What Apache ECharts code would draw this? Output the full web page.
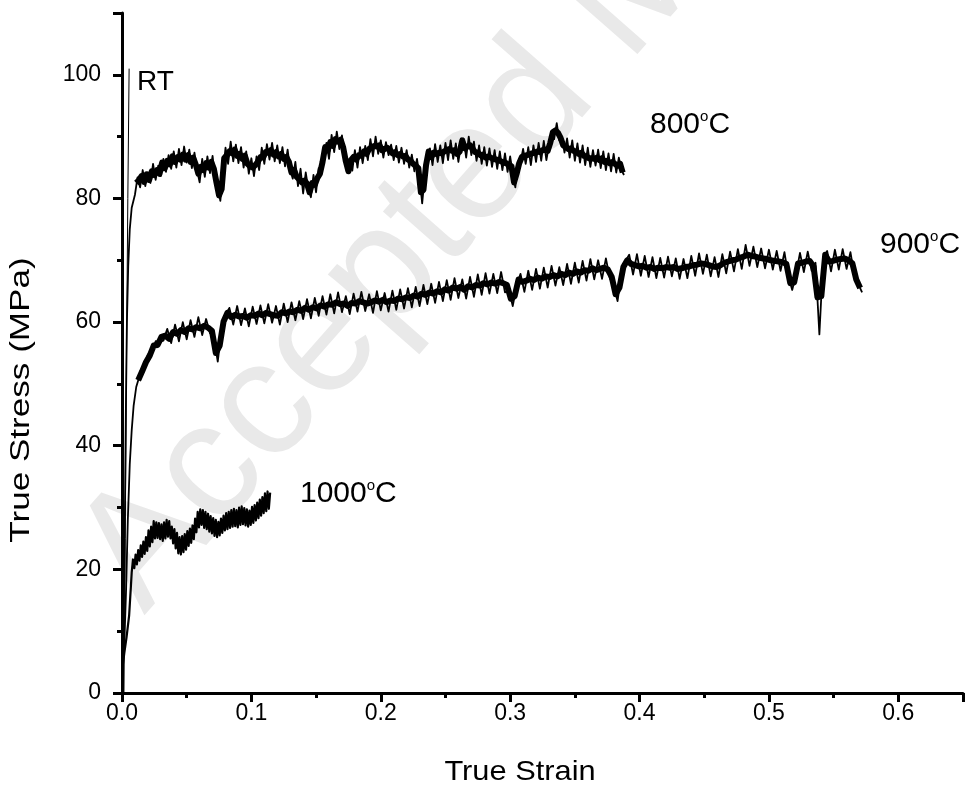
<!DOCTYPE html>
<html>
<head>
<meta charset="utf-8">
<script src="https://cdn.jsdelivr.net/npm/echarts@6/dist/echarts.min.js"></script>
<style>
html,body{margin:0;padding:0;background:#fff;}
#c{width:966px;height:791px;}
</style>
</head>
<body>
<div id="c"></div>
<script>
// ---- Data ----
const xTicks = [0, 0.1, 0.2, 0.3, 0.4, 0.5, 0.6];
const yTicks = [0, 20, 40, 60, 80, 100];

// RT curve (thin, nearly vertical)
const curveRT = [[0.0015, 0], [0.0025, 25], [0.0035, 55], [0.0045, 80], [0.0055, 101]];

// elastic rise parts [strain, stress]
const rise800 = [[0.0003, 4], [0.0012, 10], [0.0022, 28], [0.003, 46], [0.0038, 60], [0.0048, 69], [0.006, 75], [0.0075, 78.5]];
const rise900 = [[0.0003, 4], [0.0018, 8], [0.0032, 17], [0.0045, 28], [0.006, 37], [0.0075, 42.5], [0.009, 46.5]];
const rise1000 = [[0.0003, 4], [0.0018, 6.5], [0.0035, 9], [0.0055, 12.5], [0.0068, 17]];

// plastic noisy parts: regularly sampled strain (start, step) with read stress values
// (band extremes), plus band-centre readings taken half-way between those samples
const start800 = 0.010, step800 = 0.002;
const stress800 = [
80.6,83.4,81.8,84.6,82.0,84.2,82.5,85.6,83.0,85.3,
83.6,86.4,84.3,87.0,84.8,87.6,85.0,88.0,
85.4,88.4,85.8,87.9,84.9,87.4,84.6,
82.6,86.4,83.5,86.8,84.1,86.9,83.2,82.0,
79.6,84.0,
88.2,85.6,89.2,86.0,88.7,85.7,88.3,85.0,87.6,84.0,86.5,
83.6,86.8,84.6,88.2,85.6,88.8,
86.3,89.0,86.0,88.6,85.7,88.3,85.2,87.9,84.6,
83.2,85.9,82.0,84.8,80.8,84.2,81.5,80.2,83.8,81.0,84.9,84.2,
87.0,89.0,86.4,90.3,87.5,90.8,88.0,90.2,86.8,
85.2,85.6,84.5,87.8,85.0,88.3,85.7,88.5,
86.2,89.6,86.8,90.0,87.2,89.4,86.6,89.1,87.0,
88.7,86.2,88.5,85.8,88.2,85.6,87.8,85.0,87.1,84.4,86.4,
83.5,79.2,83.6,86.8,
88.1,85.4,88.8,85.9,88.6,85.7,89.0,86.2,89.4,86.4,88.9,85.9,
88.7,89.7,86.6,90.0,87.0,89.2,86.1,88.6,85.6,88.3,
85.3,88.1,85.1,87.8,84.8,87.6,84.6,87.3,84.3,86.8,
84.0,81.8,86.0,
85.8,88.0,85.6,88.3,85.4,88.6,85.9,89.0,86.1,89.3,86.2,88.6,
89.8,89.6,92.2,89.4,90.0,87.4,
89.7,86.6,89.4,86.1,88.9,85.8,88.6,85.4,88.2,85.1,87.8,85.3,
87.9,84.9,87.6,84.6,87.3,84.4,87.2,84.2,86.6,
84.6,83.8
];
const mid800 = [
82.5,82.9,83.6,82.7,83.9,83.0,84.4,83.8,84.6,84.0,
85.8,84.9,86.1,85.5,86.8,85.9,86.7,86.3,
87.1,86.3,87.0,85.9,86.6,85.5,84.0,
85.1,84.6,85.7,85.0,85.9,84.8,82.6,80.5,
81.5,86.5,
87.0,87.6,87.3,87.9,86.9,87.2,86.4,86.9,85.6,85.2,85.0,
85.4,85.9,86.7,86.6,87.5,87.4,
87.8,87.1,87.5,86.8,87.2,86.4,86.7,85.9,84.2,
84.6,83.5,83.1,82.6,82.9,82.4,81.0,82.5,82.2,83.3,84.0,85.9,
88.3,87.8,89.1,88.5,89.6,89.2,89.5,88.2,86.0,
84.4,86.2,86.7,86.3,87.0,86.9,87.6,87.2,
88.0,88.3,88.5,88.4,88.6,87.8,88.0,88.2,87.9,
87.3,87.5,87.0,87.2,86.8,86.9,86.3,86.1,85.6,85.3,84.9,
81.0,81.4,85.4,87.6,
86.7,87.4,87.2,87.4,87.3,87.6,87.8,88.0,87.7,87.8,87.2,87.6,
89.4,88.1,88.4,88.6,88.0,87.5,87.4,87.0,87.1,86.6,
86.8,86.6,86.4,86.3,86.2,86.0,85.8,85.7,85.4,85.2,
82.6,84.0,85.7,
86.7,86.9,87.0,87.1,87.3,87.4,87.6,87.5,87.8,87.9,87.7,89.0,
90.7,91.0,90.6,89.8,88.6,88.3,
88.0,88.1,87.7,87.6,87.2,87.4,86.9,86.8,86.5,86.5,86.4,86.6,
86.2,86.5,85.9,86.1,85.7,85.9,85.6,85.3,85.6,
84.2
];

const start900 = 0.011, step900 = 0.003;
const stress900 = [
49.5,51.6,52.2,54.8,55.0,56.9,56.8,57.0,58.9,56.6,
59.6,56.9,60.0,57.2,60.3,57.6,60.8,57.9,60.5,58.2,
57.6,53.6,58.8,61.2,62.3,59.6,62.6,59.5,62.2,59.3,
62.5,59.7,62.7,59.8,62.9,59.9,62.6,59.6,63.0,60.0,
63.2,60.3,63.4,60.5,63.7,60.6,63.9,61.0,64.2,61.2,
64.5,61.4,64.8,61.6,64.2,61.3,64.6,61.7,64.9,61.8,
64.5,61.5,65.0,61.9,64.7,61.7,65.1,62.0,65.3,62.2,
65.5,62.4,65.7,62.6,66.0,62.9,66.2,63.1,66.5,63.4,
66.8,63.6,67.1,63.9,66.9,63.8,67.3,64.1,67.7,64.4,
67.9,64.6,67.8,64.7,68.1,64.8,65.2,62.6,65.9,67.8,
64.9,68.3,65.2,68.6,65.4,68.8,65.6,69.1,65.9,68.9,
66.0,69.4,66.2,69.6,66.4,69.9,66.7,70.2,66.9,70.0,
67.0,70.3,67.1,66.0,63.4,67.8,69.8,70.9,67.7,71.0,
67.5,70.7,67.3,70.5,67.1,70.4,67.2,70.6,67.4,70.3,
67.0,70.2,67.1,70.7,67.5,71.1,67.8,70.9,67.4,70.5,
67.3,71.0,67.9,71.4,68.2,71.8,68.6,72.5,69.1,72.2,
68.9,71.9,68.7,71.7,68.5,71.5,68.3,71.3,67.4,65.2,
67.8,71.2,68.1,71.4,68.3,69.6,58.0,70.4,71.5,68.2,
71.7,68.5,71.8,68.6,71.3,67.6,66.2,64.8
];
const mid900 = [
50.6,52.0,53.5,54.6,56.2,56.3,57.6,57.8,57.3,58.4,
58.1,58.7,58.4,59.0,58.8,59.2,59.0,59.4,59.1,58.6,
55.0,56.2,60.1,61.5,60.8,61.2,60.9,61.0,60.7,61.1,
61.0,61.4,61.1,61.5,61.3,61.1,61.0,61.6,61.4,61.7,
61.6,62.0,61.8,62.3,62.0,62.4,62.2,62.7,62.5,62.9,
62.8,63.2,62.9,63.0,62.6,63.1,63.0,63.4,63.2,63.0,
63.2,63.5,63.3,63.6,63.2,63.5,63.4,63.8,63.7,64.0,
63.9,64.3,64.1,64.6,64.4,64.8,64.6,65.0,64.8,65.3,
65.1,65.6,65.4,65.7,65.2,65.8,65.6,66.0,65.9,66.3,
66.1,66.4,66.2,66.5,66.3,66.0,63.8,64.2,66.9,66.5,
66.7,67.0,66.8,67.2,67.0,67.4,67.3,67.6,67.4,67.8,
67.6,68.0,67.8,68.2,68.0,68.4,68.3,68.7,68.4,68.6,
68.8,68.5,67.3,64.5,65.6,68.9,70.0,69.4,69.2,69.0,
69.1,68.8,68.9,68.6,68.8,68.7,68.9,68.8,68.9,68.6,
68.7,68.9,69.0,69.2,69.3,69.5,69.4,69.2,69.0,68.9,
69.2,69.6,69.8,70.0,70.1,70.4,70.6,70.9,70.7,70.6,
70.4,70.3,70.2,70.0,69.9,69.8,69.7,69.4,66.3,66.4,
69.5,69.6,69.8,69.9,69.0,64.0,64.2,70.9,69.8,69.9,
70.1,70.2,70.3,70.0,69.5,66.9,65.5
];

const start1000 = 0.0075, step1000 = 0.001;
const stress1000 = [
19.5,21.6,20.2,22.4,20.8,23.1,21.4,23.9,22.0,24.5,
22.5,25.2,23.0,26.3,23.7,26.9,24.4,27.8,25.0,27.6,
25.1,27.5,24.9,27.3,24.6,27.6,25.0,28.0,25.3,27.8,
25.0,26.9,24.2,26.5,23.4,25.9,22.6,25.2,22.4,25.4,
22.8,25.7,23.2,26.2,23.8,26.6,24.3,27.1,24.9,28.2,
26.0,29.3,26.8,29.7,27.2,29.6,26.7,29.3,26.5,29.0,
26.1,28.6,25.8,28.3,25.4,28.0,25.2,27.7,25.5,28.2,
25.9,28.7,26.3,29.1,26.5,29.3,26.7,29.6,26.9,29.8,
27.0,29.6,26.8,30.0,27.2,30.2,27.3,29.9,27.1,29.7,
26.9,29.5,27.2,30.1,27.5,30.4,27.9,30.8,28.3,31.3,
28.7,31.7,29.1,32.3,29.4,32.6,29.8,32.4
];

const curveLabels = ['RT', '800', '900', '1000'];

// ---- build series data ----
function build(rise, start, step, vals) {
  const out = rise.slice();
  vals.forEach((v, i) => out.push([+(start + i * step).toFixed(5), v]));
  return out;
}
function buildMid(start, step, mids) {
  return mids.map((v, i) => [+(start + (i + 0.5) * step).toFixed(5), v]);
}
const d800 = build(rise800, start800, step800, stress800);
const d900 = build(rise900, start900, step900, stress900);
const d1000 = build(rise1000, start1000, step1000, stress1000);
const c800 = buildMid(start800, step800, mid800);
const c900 = buildMid(start900, step900, mid900);

const FONT = '"Liberation Sans", Arial, sans-serif';
const chart = echarts.init(document.getElementById('c'), null, {renderer: 'canvas'});

function lineSeries(data, w) {
  return {
    type: 'line', data: data, showSymbol: false, symbol: 'none',
    lineStyle: {color: '#000', width: w, join: 'round'}, animation: false, z: 3,
    emphasis: {disabled: true}
  };
}

const tempLabel = (txt, x, y) => ({
  type: 'text', left: x, top: y, z: 10,
  style: {
    text: '{a|' + txt + '}{s|o}{a|C}',
    rich: {
      a: {fontFamily: FONT, fontSize: 30, fill: '#000', color: '#000'},
      s: {fontFamily: FONT, fontSize: 15, fill: '#000', color: '#000', verticalAlign: 'top', padding: [0, 0, 16, 0]}
    }
  }
});

chart.setOption({
  backgroundColor: '#fff',
  animation: false,
  grid: {left: 122, top: 13, width: 843, height: 680, containLabel: false},
  xAxis: {
    type: 'value', min: 0, max: 0.65, interval: 0.1,
    axisLine: {show: true, onZero: false, lineStyle: {color: '#000', width: 3}},
    axisTick: {show: true, inside: false, length: 9, lineStyle: {color: '#000', width: 3}},
    minorTick: {show: true, splitNumber: 2, length: 5, lineStyle: {color: '#000', width: 3}},
    splitLine: {show: false}, minorSplitLine: {show: false},
    axisLabel: {
      margin: 9, fontFamily: FONT, fontSize: 23, color: '#000',
      formatter: v => (xTicks.some(t => Math.abs(t - v) < 1e-9) ? v.toFixed(1) : '')
    }
  },
  yAxis: {
    type: 'value', min: 0, max: 110, interval: 20,
    axisLine: {show: true, onZero: false, lineStyle: {color: '#000', width: 3}},
    axisTick: {show: true, inside: false, length: 9, lineStyle: {color: '#000', width: 3}},
    minorTick: {show: true, splitNumber: 2, length: 5, lineStyle: {color: '#000', width: 3}},
    splitLine: {show: false}, minorSplitLine: {show: false},
    axisLabel: {
      margin: 21, fontFamily: FONT, fontSize: 23, color: '#000',
      formatter: v => (yTicks.indexOf(v) >= 0 ? String(v) : '')
    }
  },
  graphic: [
    {
      type: 'text', x: 172, y: 640, rotation: 0.85, z: -5, silent: true,
      style: {text: 'Accepted Manuscript', fontFamily: FONT, fontSize: 165, fill: '#e9e9e9', textAlign: 'left', textVerticalAlign: 'bottom'}
    },
    {type: 'text', x: 520, y: 772, z: 10, scaleX: 1.1,
      style: {text: 'True Strain', fontFamily: FONT, fontSize: 28, fill: '#000', textAlign: 'center', textVerticalAlign: 'middle'}},
    {type: 'text', x: 22, y: 400, rotation: Math.PI / 2, scaleX: 1.3, z: 10,
      style: {text: 'True Stress (MPa)', fontFamily: FONT, fontSize: 27, fill: '#000', textAlign: 'center', textVerticalAlign: 'middle'}},
    {type: 'text', left: 137, top: 68, style: {text: curveLabels[0], fontFamily: FONT, fontSize: 28, fill: '#000'}, z: 10},
    tempLabel(curveLabels[1], 650, 109),
    tempLabel(curveLabels[2], 880, 229),
    tempLabel(curveLabels[3], 300, 478)
  ],
  series: [
    lineSeries(curveRT, 1),
    lineSeries(d800, 1.8),
    lineSeries(c800, 6),
    lineSeries(d900, 1.8),
    lineSeries(c900, 6),
    lineSeries(d1000, 2.2)
  ]
});
</script>
</body>
</html>
